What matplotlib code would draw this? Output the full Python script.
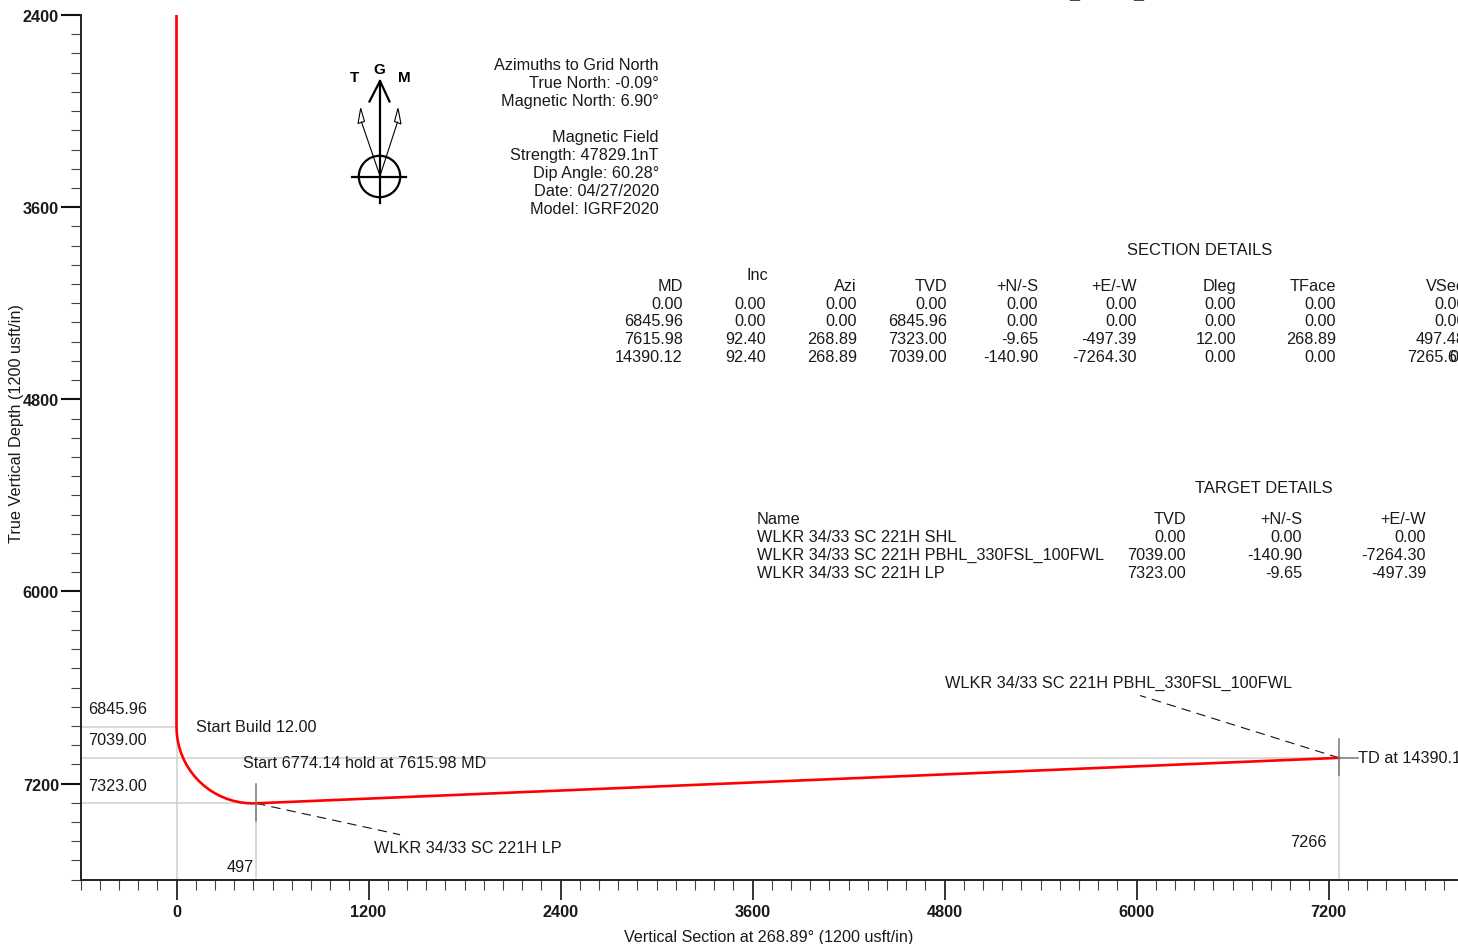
import matplotlib
matplotlib.use("Agg")
import matplotlib.pyplot as plt
from matplotlib.lines import Line2D
from matplotlib.patches import Polygon

plt.rcParams["font.family"] = ["Liberation Sans", "DejaVu Sans"]

W, H = 1458, 945

# well path, vertical section against TVD
well_vs = [0.00, 0.00, 1.82, 7.25, 16.27, 28.80, 44.74, 63.97, 86.35, 111.70, 139.84,
           170.60, 203.60, 238.73, 275.70, 314.20, 353.90, 394.60, 435.80, 477.46,
           497.40, 7265.60]
well_tvd = [2400.00, 6845.96, 6887.57, 6928.87, 6969.53, 7009.26, 7047.74, 7084.69,
            7119.82, 7152.87, 7183.58, 7211.72, 7237.07, 7259.45, 7278.69, 7294.63,
            7307.15, 7316.17, 7321.60, 7323.42, 7323.00, 7039.00]

# reference lines
ref_tvd = [6845.96, 7039.00, 7323.00]
ref_tvd_end = [0.00, 7265.60, 497.40]
ref_vs = [0.00, 497.40, 7265.60]
ref_vs_top = [6845.96, 7323.00, 7039.00]

# target leaders
leader_vs = [[497.40, 1397.0], [7265.60, 6022.0]]
leader_tvd = [[7323.00, 7519.0], [7039.00, 6650.0]]

x_major = [0, 1200, 2400, 3600, 4800, 6000, 7200]
y_major = [2400, 3600, 4800, 6000, 7200]

section_header = ["MD", "Inc", "Azi", "TVD", "+N/-S", "+E/-W", "Dleg", "TFace", "VSect"]
section_rows = [
    ["0.00", "0.00", "0.00", "0.00", "0.00", "0.00", "0.00", "0.00", "0.00"],
    ["6845.96", "0.00", "0.00", "6845.96", "0.00", "0.00", "0.00", "0.00", "0.00"],
    ["7615.98", "92.40", "268.89", "7323.00", "-9.65", "-497.39", "12.00", "268.89", "497.48"],
    ["14390.12", "92.40", "268.89", "7039.00", "-140.90", "-7264.30", "0.00", "0.00", "7265.60"],
]
section_right = [683, 766, 857, 947, 1038, 1137, 1236, 1336, 1466]
header_right = [683, 768, 857, 947.5, 1038, 1137, 1236, 1336, 1470]
row_base = [309, 326.5, 344.5, 362.5]

target_names = ["WLKR 34/33 SC 221H SHL", "WLKR 34/33 SC 221H PBHL_330FSL_100FWL",
                "WLKR 34/33 SC 221H LP"]
target_tvd = ["0.00", "7039.00", "7323.00"]
target_ns = ["0.00", "-140.90", "-9.65"]
target_ew = ["0.00", "-7264.30", "-497.39"]

azimuth_lines = [("Azimuths to Grid North", 70), ("True North: -0.09°", 88),
                 ("Magnetic North: 6.90°", 106), ("Magnetic Field", 142),
                 ("Strength: 47829.1nT", 160), ("Dip Angle: 60.28°", 178),
                 ("Date: 04/27/2020", 196), ("Model: IGRF2020", 214)]

FS = 11.7


def px_text(fig, x, y, s, ha="left", **kw):
    # place a text by pixel position of its baseline
    kw.setdefault("fontsize", FS)
    kw.setdefault("color", "#1a1a1a")
    return fig.text(x / W, 1 - y / H, s, ha=ha, va="baseline", **kw)


def px_line(fig, xs, ys, **kw):
    fig.add_artist(Line2D([x / W for x in xs], [1 - y / H for y in ys],
                          transform=fig.transFigure, **kw))


def draw_north_arrow(fig):
    black = "#000000"
    px_line(fig, [380, 380], [82, 204], color=black, lw=1.6)
    px_line(fig, [369.5, 380, 389.5], [102.5, 82, 102.5], color=black, lw=1.6)
    px_line(fig, [352, 406.5], [177.5, 177.5], color=black, lw=1.6)
    px_line(fig, [380, 361.5], [177, 123], color=black, lw=0.8)
    px_line(fig, [380, 397.5], [177, 123], color=black, lw=0.8)
    for pts in ([(360.7, 109.3), (358, 124.5), (364.5, 122.5)],
                [(398, 109.3), (401, 125), (394.5, 122.5)]):
        fig.add_artist(Polygon([(x / W, 1 - y / H) for x, y in pts], closed=True,
                               transform=fig.transFigure, fc="white", ec=black, lw=0.8))
    circ = plt.Circle((379.5, H - 177.5), 20.7, transform=None, fc="none", ec=black, lw=1.6)
    fig.add_artist(circ)
    px_text(fig, 355, 82, "T", ha="center", fontweight="bold", fontsize=11, color=black)
    px_text(fig, 379.5, 74, "G", ha="center", fontweight="bold", fontsize=11, color=black)
    px_text(fig, 404, 82, "M", ha="center", fontweight="bold", fontsize=11, color=black)


def main():
    fig = plt.figure(figsize=(W / 100, H / 100), dpi=100)
    ax = fig.add_axes([80.5 / W, 1 - 880.7 / H, 1376 / W, 864.7 / H])
    ax.patch.set_alpha(0)
    ax.set_xlim(-600, 8000)
    ax.set_ylim(7800, 2400)

    for s in ("top", "right"):
        ax.spines[s].set_visible(False)
    for s in ("left", "bottom"):
        ax.spines[s].set_linewidth(1.4)
        ax.spines[s].set_color("#222222")

    ax.set_xticks(x_major)
    ax.set_yticks(y_major)
    ax.set_xticks(list(range(-600, 8000, 120)), minor=True)
    ax.set_yticks(list(range(2400, 7800, 120)) + [7800], minor=True)
    ax.tick_params(axis="both", which="major", length=14.5, color="#111111", labelsize=FS)
    ax.tick_params(axis="both", which="minor", length=7.5, width=0.8, color="#444444")
    ax.tick_params(axis="x", which="major", width=1.2, pad=3)
    ax.tick_params(axis="y", which="major", width=1.5, pad=1)
    for lab in ax.get_xticklabels() + ax.get_yticklabels():
        lab.set_fontweight("bold")
        lab.set_color("#1a1a1a")
    for lab in ax.get_yticklabels():
        lab.set_va("center_baseline")

    grey = "#cfcfcf"
    for t, e in zip(ref_tvd, ref_tvd_end):
        ax.plot([-600, e], [t, t], color=grey, lw=1.1, zorder=1)
    for v, t in zip(ref_vs, ref_vs_top):
        ax.plot([v, v], [7800, t], color=grey, lw=1.1, zorder=1)

    for v, t in zip(leader_vs, leader_tvd):
        ax.plot(v, t, color="#111111", lw=0.8, dashes=(8.5, 5.5), zorder=2)

    ax.plot(well_vs, well_tvd, color="#ff0000", lw=1.9, zorder=3, solid_joinstyle="round")

    # casing marks on the path
    mark = "#777777"
    ax.plot([497.4, 497.4], [7203, 7433], color=mark, lw=1.1, zorder=4)
    ax.plot([7265.6, 7265.6], [6919, 7149], color=mark, lw=1.1, zorder=4)
    ax.plot([7265.6, 7385], [7039, 7039], color=mark, lw=1.1, zorder=4)

    draw_north_arrow(fig)

    px_text(fig, 624, 942, "Vertical Section at 268.89° (1200 usft/in)", fontsize=11.6)
    fig.text(17 / W, 1 - 423.5 / H, "True Vertical Depth (1200 usft/in)", rotation=90,
             ha="center", va="center", fontsize=FS, color="#1a1a1a")

    # bits of a heading cut off by the top edge
    px_text(fig, 1069, -1, "_", fontsize=13, fontweight="bold", color="#333333")
    px_text(fig, 1133, -1, "_", fontsize=13, fontweight="bold", color="#333333")

    for s, y in azimuth_lines:
        px_text(fig, 659, y, s, ha="right")

    px_text(fig, 1199.5, 255, "SECTION DETAILS", ha="center", fontsize=11.85)
    for name, x in zip(section_header, header_right):
        px_text(fig, x, 280 if name == "Inc" else 291, name, ha="right")
    for y, row in zip(row_base, section_rows):
        for val, x in zip(row, section_right):
            px_text(fig, x, y, val, ha="right")
    # the source has a digit printed over the last VSect value
    px_text(fig, 1449, row_base[3], "0")

    px_text(fig, 1263.5, 493, "TARGET DETAILS", ha="center", fontsize=11.85)
    px_text(fig, 757, 524, "Name")
    px_text(fig, 1186, 524, "TVD", ha="right")
    px_text(fig, 1302, 524, "+N/-S", ha="right")
    px_text(fig, 1426, 524, "+E/-W", ha="right")
    for r in range(3):
        y = 542 + r * 18
        px_text(fig, 757, y, target_names[r])
        px_text(fig, 1186, y, target_tvd[r], ha="right")
        px_text(fig, 1302, y, target_ns[r], ha="right")
        px_text(fig, 1426, y, target_ew[r], ha="right")

    px_text(fig, 88, 714, "6845.96")
    px_text(fig, 88, 745, "7039.00")
    px_text(fig, 88, 791, "7323.00")
    px_text(fig, 196, 732, "Start Build 12.00")
    px_text(fig, 243, 768, "Start 6774.14 hold at 7615.98 MD", fontsize=11.6)
    px_text(fig, 374, 853, "WLKR 34/33 SC 221H LP")
    px_text(fig, 945, 688, "WLKR 34/33 SC 221H PBHL_330FSL_100FWL")
    px_text(fig, 1358, 763, "TD at 14390.12")
    px_text(fig, 227, 872, "497")
    px_text(fig, 1290, 847, "7266")

    fig.savefig("out.png", dpi=100)


if __name__ == "__main__":
    main()
